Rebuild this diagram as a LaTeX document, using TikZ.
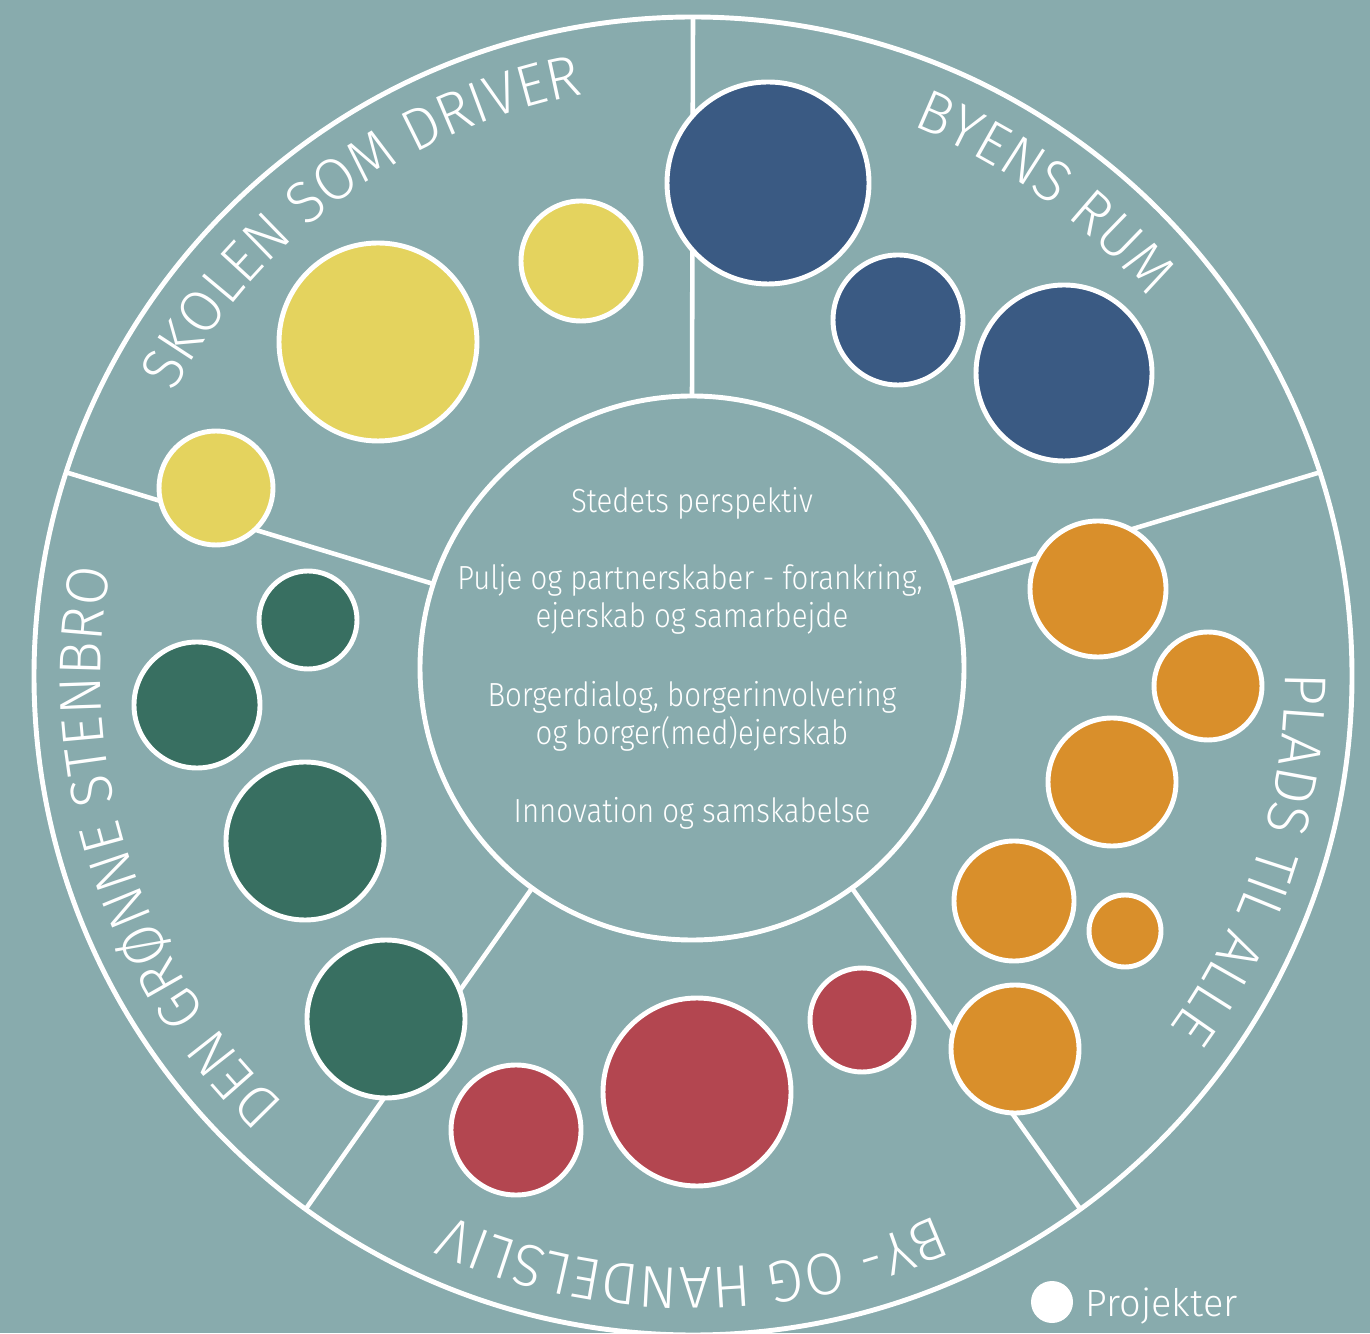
\documentclass[tikz,border=0pt]{standalone}
\usepackage{fontspec}
\setmainfont{Fira Sans Light}
\newfontfamily\lblfont{Fira Sans Light}[FakeStretch=0.97]
\newfontfamily\ctrfont{Fira Sans Light}[FakeStretch=0.88]
\usetikzlibrary{calc,decorations.text}
\definecolor{bg}{HTML}{88ABAD}
\definecolor{yel}{HTML}{E4D35E}
\definecolor{blu}{HTML}{3A5A83}
\definecolor{ora}{HTML}{D98F2B}
\definecolor{redd}{HTML}{B34650}
\definecolor{grn}{HTML}{386F61}
\begin{document}
\begin{tikzpicture}[x=0.01cm,y=0.01cm,
  ring/.style={draw=white,line width=1.4pt},
  divider/.style={draw=white,line width=1.3pt},
  bubble/.style={draw=white,line width=1.4pt},
  ctext/.style={text=white,font=\ctrfont\fontsize{9.5}{11}\selectfont,anchor=base,inner sep=0pt},
  arclabel/.style={decorate,decoration={text along path,text align=center,text color=white,
     text={|\lblfont\fontsize{16.8}{20}\selectfont|#1}}}
]
\fill[bg] (0,0) rectangle (1370,1333);
\useasboundingbox (0,0) rectangle (1370,1333);
\coordinate (oc) at (693,657);
\coordinate (ic) at (692,665);
% outer ring
\draw[ring] (oc) circle[radius=659];
% dividers
\foreach \a/\n in {90/a,18/b,162/c,234/d,306/e}{
  \coordinate (din\n) at ($(ic)+(\a:272)$);
  \coordinate (dout\n) at ($(oc)+(\a:659)$);
  \draw[divider] (din\n) -- (dout\n);
}
% inner circle
\draw[ring] (ic) circle[radius=272];
% center texts
\node[ctext] (t1) at (692,820) {Stedets perspektiv};
\node[ctext] (t2) at (690,743) {Pulje og partnerskaber - forankring,};
\node[ctext] (t3) at (692,705) {ejerskab og samarbejde};
\node[ctext] (t4) at (692,626) {Borgerdialog, borgerinvolvering};
\node[ctext] (t5) at (692,588) {og borger(med)ejerskab};
\node[ctext] (t6) at (692,510) {Innovation og samskabelse};
% yellow
\draw[bubble,fill=yel] (581,1072) circle[radius=60];
\draw[bubble,fill=yel] (378,991) circle[radius=99];
\draw[bubble,fill=yel] (216,845) circle[radius=57];
% blue
\draw[bubble,fill=blu] (768,1150) circle[radius=101];
\draw[bubble,fill=blu] (898,1013) circle[radius=65];
\draw[bubble,fill=blu] (1064,960) circle[radius=88];
% orange
\draw[bubble,fill=ora] (1098,744) circle[radius=68];
\draw[bubble,fill=ora] (1208,647) circle[radius=54];
\draw[bubble,fill=ora] (1112,551) circle[radius=64];
\draw[bubble,fill=ora] (1014,432) circle[radius=60];
\draw[bubble,fill=ora] (1125,402) circle[radius=36];
\draw[bubble,fill=ora] (1015,284) circle[radius=64];
% red
\draw[bubble,fill=redd] (862,313) circle[radius=52];
\draw[bubble,fill=redd] (697,241) circle[radius=94];
\draw[bubble,fill=redd] (516,203) circle[radius=65];
% green
\draw[bubble,fill=grn] (308,713) circle[radius=49];
\draw[bubble,fill=grn] (197,628) circle[radius=63];
\draw[bubble,fill=grn] (305,492) circle[radius=79];
\draw[bubble,fill=grn] (386,314) circle[radius=79];
% arc labels
\path[arclabel={SKOLEN SOM DRIVER}] ($(oc)+(162:592)$) arc[start angle=162,end angle=90,radius=592];
\path[arclabel={BYENS RUM}] ($(oc)+(90:592)$) arc[start angle=90,end angle=18,radius=592];
\path[arclabel={PLADS TIL ALLE}] ($(oc)+(18:592)$) arc[start angle=18,end angle=-54,radius=592];
\path[arclabel={BY- OG HANDELSLIV}] ($(oc)+(-54:592)$) arc[start angle=-54,end angle=-126,radius=592];
\path[arclabel={DEN GRØNNE STENBRO}] ($(oc)+(234:592)$) arc[start angle=234,end angle=162,radius=592];
% legend
\fill[white] (1052,31) circle[radius=21];
\node[text=white,font=\fontsize{10.8}{13}\selectfont,anchor=base west,inner sep=0pt] (leg) at (1085,17) {Projekter};
\end{tikzpicture}
\end{document}
